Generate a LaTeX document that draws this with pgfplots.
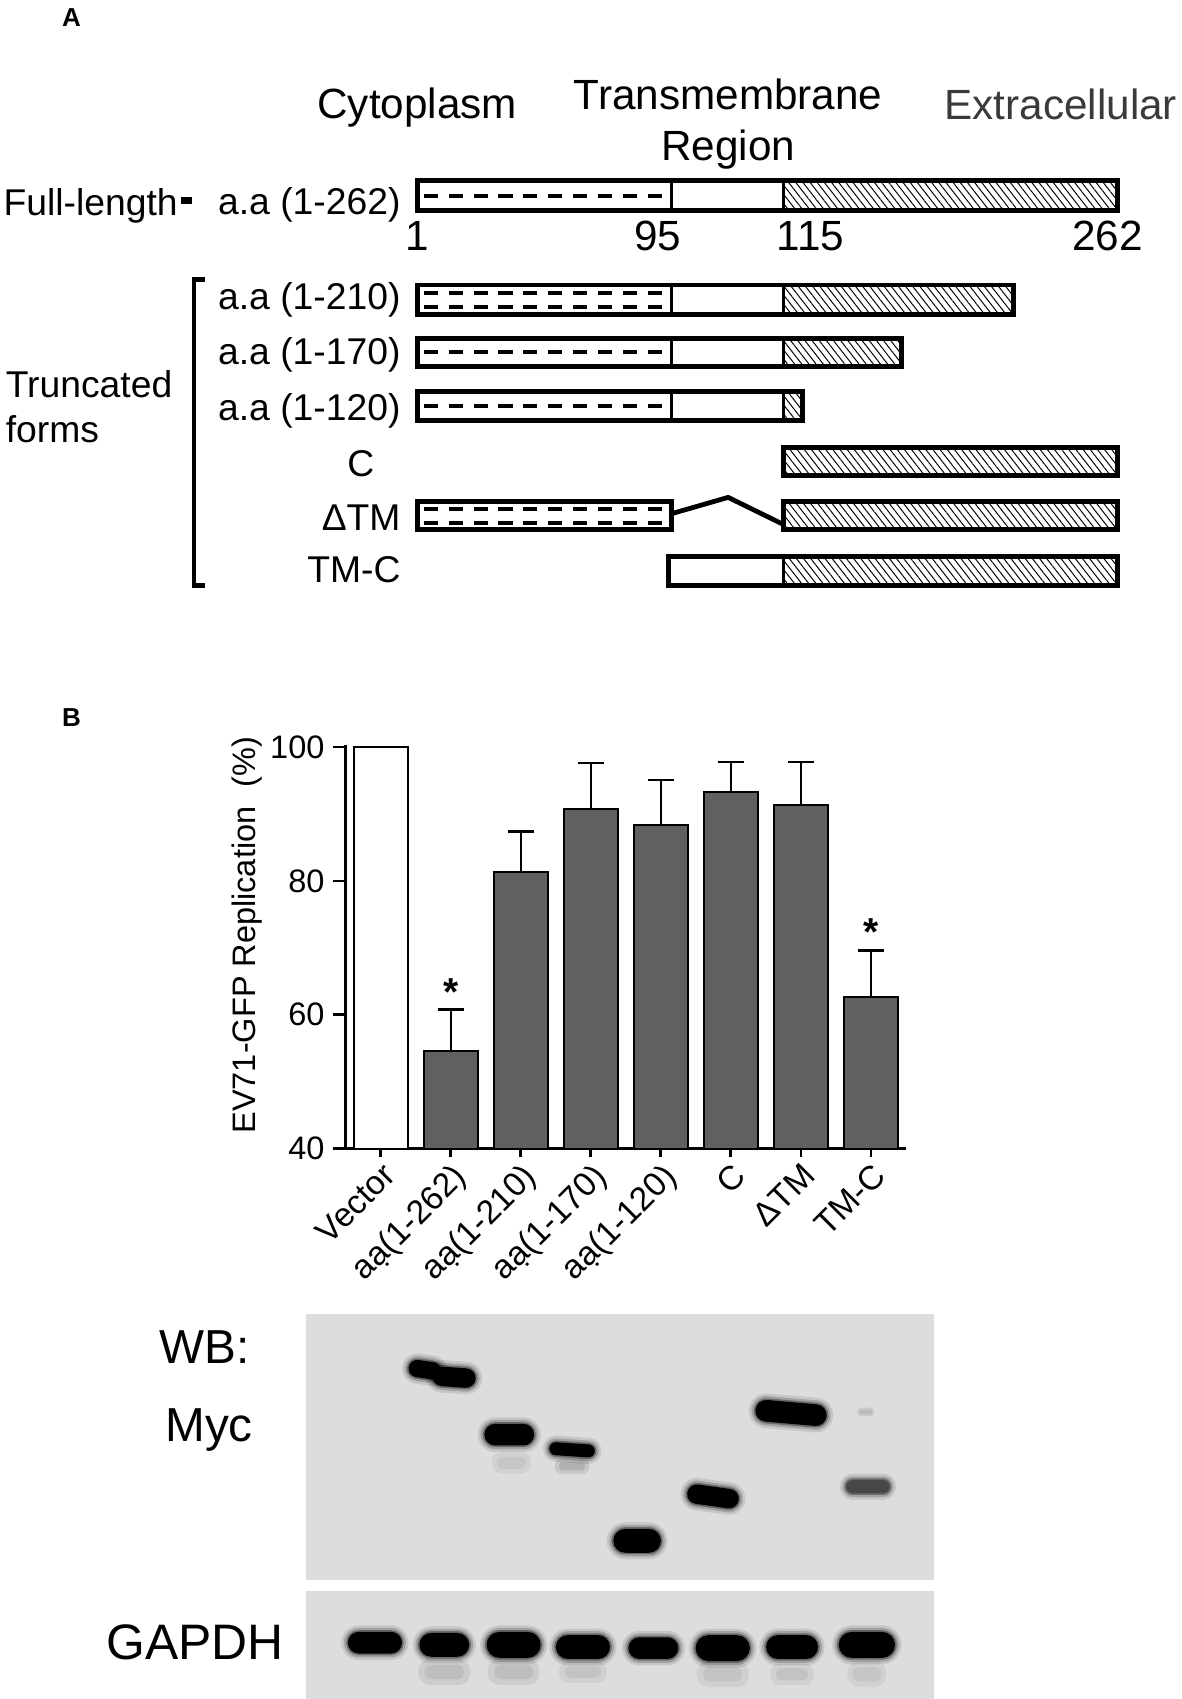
\documentclass[border=0pt]{standalone}
\usepackage{fontspec}
\setmainfont{Liberation Sans}
\usepackage{graphicx}
\usepackage{pgfplots}
\pgfplotsset{compat=1.18}
\usetikzlibrary{patterns.meta,calc}
\newcommand{\fs}[1]{\fontsize{#1}{#1}\selectfont}
\definecolor{barg}{HTML}{606060}
\definecolor{blotg}{HTML}{DDDDDD}
\definecolor{extg}{HTML}{3A3A3A}
\tikzset{
  hatch/.style={draw=none, pattern={Lines[angle=-52,distance=2.6pt,line width=0.45pt]}, pattern color=black},
  outline/.style={draw=black, line width=2.3pt, fill=none},
  divider/.style={draw=black, line width=1.3pt},
  dashl/.style={line width=1.9pt, dash pattern=on 6.5pt off 5pt},
}
% rectangle from x1 to x2, y1 to y2
\newcommand{\seg}[5]{\addplot[#5] coordinates {(#1,#3)(#2,#3)(#2,#4)(#1,#4)} -- cycle;}
\newcommand{\onedash}[2]{\addplot[dashl] coordinates {(391,#1)(#2,#1)};}
% soft band: cx cy halfwidth(pt) halfheight(pt) rotation colour
\newcommand{\band}[6]{%
  \fill[black, opacity=0.10, rounded corners=#4pt+3pt, rotate around={#5:(axis cs:#1,#2)}] ($(axis cs:#1,#2)+(-#3pt-3pt,-#4pt-3pt)$) rectangle ($(axis cs:#1,#2)+(#3pt+3pt,#4pt+3pt)$);
  \fill[black, opacity=0.18, rounded corners=#4pt+1.8pt, rotate around={#5:(axis cs:#1,#2)}] ($(axis cs:#1,#2)+(-#3pt-1.8pt,-#4pt-1.8pt)$) rectangle ($(axis cs:#1,#2)+(#3pt+1.8pt,#4pt+1.8pt)$);
  \fill[black, opacity=0.35, rounded corners=#4pt+0.8pt, rotate around={#5:(axis cs:#1,#2)}] ($(axis cs:#1,#2)+(-#3pt-0.8pt,-#4pt-0.8pt)$) rectangle ($(axis cs:#1,#2)+(#3pt+0.8pt,#4pt+0.8pt)$);
  \fill[#6, rounded corners=#4pt, rotate around={#5:(axis cs:#1,#2)}] ($(axis cs:#1,#2)+(-#3pt,-#4pt)$) rectangle ($(axis cs:#1,#2)+(#3pt,#4pt)$);}
% faint smear: cx cy halfwidth halfheight opacity
\newcommand{\faint}[5]{%
  \fill[black, opacity=#5, rounded corners=#4pt*0.9] ($(axis cs:#1,#2)+(-#3pt,-#4pt)$) rectangle ($(axis cs:#1,#2)+(#3pt,#4pt)$);
  \fill[black, opacity=#5, rounded corners=#4pt*0.5] ($(axis cs:#1,#2)+(-#3pt*0.75,-#4pt*0.55)$) rectangle ($(axis cs:#1,#2)+(#3pt*0.75,#4pt*0.55)$);}
\begin{document}
\begin{tikzpicture}
\begin{axis}[name=canvas, at={(0pt,0pt)}, anchor=north west, scale only axis,
  width=545pt, height=784pt, xmin=0, xmax=1090, ymin=0, ymax=1568, y dir=reverse,
  hide axis, clip=false]
% ---------- Panel A ----------
\node[font=\fs{12pt}\bfseries] at (axis cs:66,16) {A};
\node[anchor=base, font=\fs{19.5pt}] at (axis cs:385,109) {Cytoplasm};
\node[anchor=base, font=\fs{19.5pt}] at (axis cs:672,101) {Transmembrane};
\node[anchor=base, font=\fs{19.5pt}] at (axis cs:672,148) {Region};
\node[anchor=base, font=\fs{19.5pt}, text=extg] at (axis cs:979,110) {Extracellular};
% full length
\node[anchor=base west, font=\fs{17.2pt}, inner sep=0pt] at (axis cs:3,199) {Full-length};
\seg{167}{177}{182}{188}{fill=black, draw=none}
\node[anchor=base east, font=\fs{17.2pt}, inner sep=0pt] at (axis cs:370,198) {a.a (1-262)};
\seg{723}{1031}{167}{194}{hatch}
\onedash{180.5}{612}
\addplot[divider] coordinates {(620,167)(620,194)};
\addplot[divider] coordinates {(723,167)(723,194)};
\seg{385}{1031}{167}{194}{outline}
\node[anchor=base, font=\fs{19.5pt}] at (axis cs:385,231) {1};
\node[anchor=base, font=\fs{19.5pt}] at (axis cs:607,231) {95};
\node[anchor=base, font=\fs{19.5pt}] at (axis cs:748,231) {115};
\node[anchor=base, font=\fs{19.5pt}] at (axis cs:1022,231) {262};
% bracket
\addplot[line width=2.2pt] coordinates {(189,258)(179,258)(179,540)(189,540)};
\node[anchor=base west, font=\fs{17.2pt}, inner sep=0pt] at (axis cs:5,367) {Truncated};
\node[anchor=base west, font=\fs{17.2pt}, inner sep=0pt] at (axis cs:5,408) {forms};
% 1-210
\node[anchor=base east, font=\fs{17.2pt}, inner sep=0pt] at (axis cs:370,286) {a.a (1-210)};
\seg{723}{935}{263}{290}{hatch}
\onedash{270}{612}
\onedash{283.5}{612}
\addplot[divider] coordinates {(620,263)(620,290)};
\addplot[divider] coordinates {(723,263)(723,290)};
\seg{385}{935}{263}{290}{outline}
% 1-170
\node[anchor=base east, font=\fs{17.2pt}, inner sep=0pt] at (axis cs:370,336) {a.a (1-170)};
\seg{723}{832}{312}{338}{hatch}
\onedash{324.5}{612}
\addplot[divider] coordinates {(620,312)(620,338)};
\addplot[divider] coordinates {(723,312)(723,338)};
\seg{385}{832}{312}{338}{outline}
% 1-120
\node[anchor=base east, font=\fs{17.2pt}, inner sep=0pt] at (axis cs:370,388) {a.a (1-120)};
\seg{723}{741}{361}{388}{hatch}
\onedash{374.5}{612}
\addplot[divider] coordinates {(620,361)(620,388)};
\addplot[divider] coordinates {(723,361)(723,388)};
\seg{385}{741}{361}{388}{outline}
% C
\node[anchor=base, font=\fs{17.2pt}, inner sep=0pt] at (axis cs:333,440) {C};
\seg{723}{1031}{413}{439}{hatch}
\seg{723}{1031}{413}{439}{outline}
% Delta TM
\node[anchor=base east, font=\fs{17.2pt}, inner sep=0pt] at (axis cs:370,490) {ΔTM};
\onedash{470}{612}
\onedash{483}{612}
\seg{385}{620}{463}{489}{outline}
\seg{723}{1031}{463}{489}{hatch}
\seg{723}{1031}{463}{489}{outline}
\addplot[line width=2.2pt] coordinates {(620,474)(672,459)(723,484)};
% TM-C
\node[anchor=base east, font=\fs{17.2pt}, inner sep=0pt] at (axis cs:370,538) {TM-C};
\seg{723}{1031}{514}{540}{hatch}
\addplot[divider] coordinates {(723,514)(723,540)};
\seg{617}{1031}{514}{540}{outline}
% ---------- Panel B label ----------
\node[font=\fs{12pt}\bfseries] at (axis cs:66,662) {B};
% ---------- Western blots ----------
\seg{282}{862}{1213}{1458}{fill=blotg, draw=none}
\seg{282}{862}{1468}{1568}{fill=blotg, draw=none}
\node[font=\fs{22pt}] at (axis cs:189,1243) {WB:};
\node[font=\fs{22pt}] at (axis cs:193,1320) {Myc};
\node[font=\fs{23pt}] at (axis cs:180,1516) {GAPDH};
% faint smears (drawn first)
\faint{528}{1353}{8}{3.5}{0.10}
\faint{799}{1303}{4}{2}{0.08}
\faint{410}{1543}{12}{6}{0.07}
\faint{474}{1543}{12}{6}{0.07}
\faint{538}{1543}{11}{5}{0.06}
\faint{667}{1545}{12}{6}{0.06}
\faint{731}{1545}{10}{5}{0.06}
\faint{800}{1545}{9}{6}{0.05}
\faint{472}{1350}{9}{5}{0.05}
% Myc bands
\band{392}{1264}{7.5}{4}{-8}{black}
\band{419}{1271}{10}{4.5}{-4}{black}
\band{470}{1324}{11.5}{5}{0}{black}
\band{528}{1338}{10.5}{3}{-4}{black}
\band{588}{1422}{11}{5.5}{0}{black}
\band{658}{1381}{12}{4.5}{-8}{black}
\band{730}{1304}{16.5}{5}{-5}{black}
\band{801}{1372}{10}{3}{0}{black!72}
% GAPDH bands
\band{346}{1516}{12.5}{5}{0}{black}
\band{410}{1518}{11.5}{5.5}{0}{black}
\band{474}{1518}{12.5}{6}{0}{black}
\band{538}{1520}{12.5}{5.5}{0}{black}
\band{603}{1521}{11.5}{5}{0}{black}
\band{667}{1521}{12.5}{6}{0}{black}
\band{731}{1520}{12}{5.5}{0}{black}
\band{800}{1518}{13}{6}{0}{black}
\end{axis}
% ---------- Bar chart ----------
\begin{axis}[at={(159.5pt,-530pt)}, anchor=south west, scale only axis,
  width=258.5pt, height=186pt,
  xmin=-0.5, xmax=7.5, ymin=40, ymax=100.25,
  axis x line=bottom, axis y line=left,
  axis line style={-, line width=1.2pt},
  ytick={40,60,80,100}, xtick={0,...,7},
  xticklabels={Vector, aạ(1-262), aạ(1-210), aạ(1-170), aạ(1-120), C, ΔTM, TM-C},
  tick align=outside,
  tick style={line width=1.2pt, black},
  xtick style={/pgfplots/major tick length=4pt},
  ytick style={/pgfplots/major tick length=6pt},
  y tick label style={font=\fs{15pt}, xshift=-2pt},
  x tick label style={font=\fs{15.5pt}, rotate=45, anchor=north east, inner sep=1pt},
  /pgf/number format/assume math mode=true,
  ylabel={EV71-GFP Replication\hspace{0.6em}(\%)},
  ylabel style={font=\fs{15pt}, at={(axis description cs:-0.176,0.53)}, anchor=center},
  ybar, bar width=0.77, bar shift=0pt,
  clip mode=individual,
]
\addplot[fill=white, draw=black, line width=0.9pt] coordinates {(0,100)};
\addplot[fill=barg, draw=black, line width=0.9pt,
  error bars/.cd, y dir=plus, y explicit,
  error bar style={line width=1pt, black},
  error mark options={line width=1pt, mark size=6pt, black, rotate=90}]
  table[x=x, y=y, y error=e] {
x y e
1 54.6 6.2
2 81.3 6.1
3 90.8 6.8
4 88.3 6.8
5 93.3 4.5
6 91.3 6.5
7 62.6 7.0
};
\node[font=\fs{18pt}\bfseries, anchor=base] at (axis cs:1,61.4) {*};
\node[font=\fs{18pt}\bfseries, anchor=base] at (axis cs:7,70.3) {*};
\end{axis}
\pgfresetboundingbox
\path (0pt,0pt) rectangle (545pt,-784pt);
\end{tikzpicture}
\end{document}
